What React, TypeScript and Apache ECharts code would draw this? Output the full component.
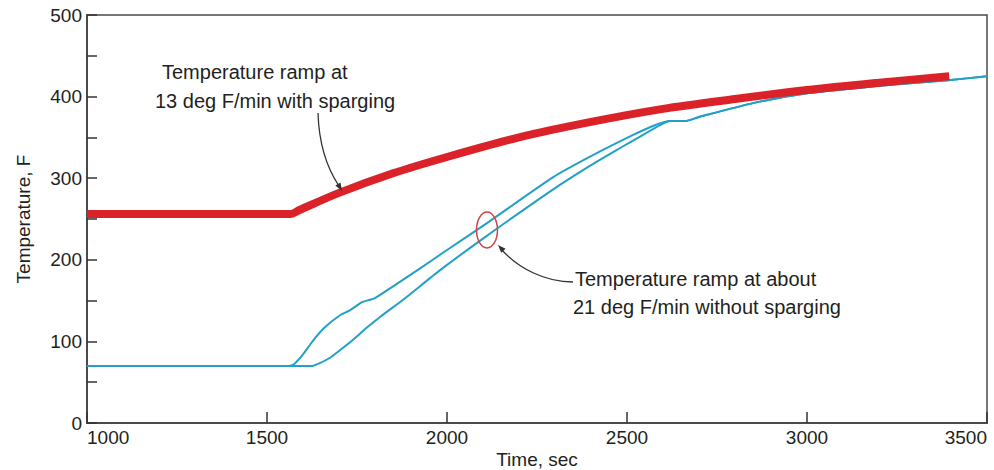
import React, { useEffect, useRef } from "react";
import * as echarts from "echarts";

// Time (sec) / Temperature (F)
const sparging: [number, number][] = [
  [1000, 256], [1565, 256], [1590, 261], [1700, 282], [1850, 306], [2000, 326], [2200, 350],
  [2400, 369], [2600, 385], [2800, 397], [3000, 408], [3200, 417], [3395, 425],
];

const noSpargeA: [number, number][] = [
  [1000, 70], [1560, 70], [1575, 72], [1600, 84], [1628, 101], [1660, 117], [1703, 132],
  [1730, 138], [1764, 148], [1786, 151], [1800, 153], [1917, 187], [2000, 212], [2111, 245],
  [2294, 301], [2400, 327], [2517, 353], [2572, 364], [2619, 370], [2661, 370], [2700, 375],
  [2850, 392], [3000, 404], [3128, 410], [3250, 415], [3392, 420], [3500, 425],
];

const noSpargeB: [number, number][] = [
  [1000, 70], [1625, 70], [1645, 73], [1675, 80], [1705, 90], [1739, 102], [1775, 116],
  [1814, 130], [1878, 151], [1980, 187], [2100, 226], [2294, 286], [2400, 316], [2481, 337],
  [2540, 352], [2592, 365], [2619, 370], [2661, 370], [2700, 375], [2850, 392], [3000, 404],
  [3128, 410], [3250, 415], [3392, 420], [3500, 425],
];

const xTicks = [1000, 1500, 2000, 2500, 3000, 3500];
const yTicks = [0, 100, 200, 300, 400, 500];

const RED = "#dc2229";
const BLUE = "#22a0c8";
const TEXT = "#231f20";
const FONT = "'Liberation Sans', Arial, sans-serif";

export default function App() {
  const ref = useRef<HTMLDivElement>(null);
  useEffect(() => {
    if (!ref.current) return;
    const chart = echarts.init(ref.current, null, { renderer: "svg" });
    const axisLine = { show: true, lineStyle: { color: "#4a4a4a", width: 2 } };
    chart.setOption({
      animation: false,
      backgroundColor: "#ffffff",
      grid: {
        left: 87, right: 7, top: 15, bottom: 47, show: true,
        borderColor: "#4a4a4a", borderWidth: 1.5,
        containLabel: false, outerBoundsMode: "none",
      },
      xAxis: {
        type: "value",
        min: xTicks[0],
        max: xTicks[xTicks.length - 1],
        interval: 500,
        axisLine,
        axisTick: { show: true, inside: true, length: 11, lineStyle: { color: "#333", width: 1.5 } },
        axisLabel: {
          fontFamily: FONT, fontSize: 19, color: TEXT, margin: 5,
          alignMinLabel: "left", alignMaxLabel: "right",
          formatter: (v: number) => String(v),
        },
        splitLine: { show: false },
      },
      yAxis: {
        type: "value",
        min: yTicks[0],
        max: yTicks[yTicks.length - 1],
        interval: 100,
        name: "Temperature, F",
        nameLocation: "middle",
        nameGap: 54,
        nameTextStyle: { fontFamily: FONT, fontSize: 19, color: TEXT },
        axisLine,
        axisTick: { show: true, inside: true, length: 10, lineStyle: { color: "#333", width: 1.5 } },
        minorTick: { show: true, splitNumber: 2, length: 10, lineStyle: { color: "#333", width: 1.5 } },
        axisLabel: { fontFamily: FONT, fontSize: 19, color: TEXT, margin: 5, formatter: (v: number) => String(v) },
        splitLine: { show: false },
      },
      series: [
        {
          type: "line", data: noSpargeA, showSymbol: false, smooth: 0.2,
          lineStyle: { color: BLUE, width: 2 }, z: 2,
        },
        {
          type: "line", data: noSpargeB, showSymbol: false, smooth: 0.2,
          lineStyle: { color: BLUE, width: 2 }, z: 2,
        },
        {
          type: "line", data: sparging, showSymbol: false, smooth: 0.3,
          lineStyle: { color: RED, width: 8, join: "round" }, z: 3,
        },
      ],
      graphic: [
        {
          type: "text", x: 537, y: 469,
          style: { text: "Time, sec", font: `19px ${FONT}`, fill: TEXT, align: "center", verticalAlign: "bottom" },
        },
        { type: "text", left: 162, top: 62, style: { text: "Temperature ramp at", font: `20px ${FONT}`, fill: TEXT } },
        { type: "text", left: 155, top: 91, style: { text: "13 deg F/min with sparging", font: `20px ${FONT}`, fill: TEXT } },
        { type: "text", left: 575, top: 269, style: { text: "Temperature ramp at about", font: `20px ${FONT}`, fill: TEXT } },
        { type: "text", left: 573, top: 297, style: { text: "21 deg F/min without sparging", font: `20px ${FONT}`, fill: TEXT } },
        {
          type: "bezierCurve", z: 10,
          shape: { x1: 318, y1: 113, cpx1: 319, cpy1: 145, cpx2: 327, cpy2: 168, x2: 339, y2: 186 },
          style: { stroke: "#333", lineWidth: 1.3, fill: "none" },
        },
        {
          type: "polygon", z: 10,
          shape: { points: [[342, 191], [335.3, 185.6], [340.5, 182.6]] },
          style: { fill: "#333" },
        },
        {
          type: "bezierCurve", z: 10,
          shape: { x1: 573, y1: 282, cpx1: 545, cpy1: 282, cpx2: 518, cpy2: 268, x2: 502, y2: 250 },
          style: { stroke: "#333", lineWidth: 1.3, fill: "none" },
        },
        {
          type: "polygon", z: 10,
          shape: { points: [[498, 245], [505.6, 248.8], [501.2, 252.8]] },
          style: { fill: "#333" },
        },
        {
          type: "ellipse", z: 10,
          shape: { cx: 487, cy: 230, rx: 10.5, ry: 18 },
          style: { stroke: "#cf4648", lineWidth: 1.5, fill: "none" },
        },
      ],
    });
    return () => chart.dispose();
  }, []);
  return <div ref={ref} style={{ width: 994, height: 470, position: "absolute", left: 0, top: 0 }} />;
}
